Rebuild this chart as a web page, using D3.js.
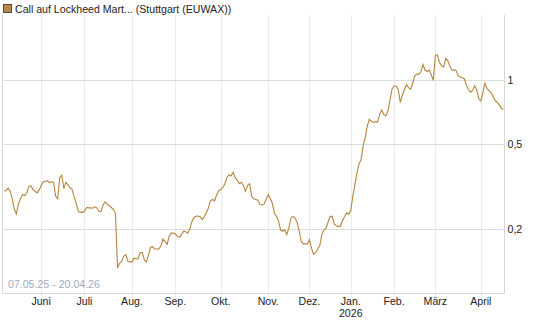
<!DOCTYPE html>
<html>
<head>
<meta charset="utf-8">
<script src="https://cdn.jsdelivr.net/npm/d3@7"></script>
<style>
  body { margin: 0; background: #fff; }
  text { font-family: Arial, "Liberation Sans", sans-serif; }
</style>
</head>
<body>
<div id="chart"></div>
<script>
// chart size
var w = 545;
var h = 327;
var margin = { top: 15, right: 41.5, bottom: 34, left: 4 };

var title = "Call auf Lockheed Mart... (Stuttgart (EUWAX))";
var rangeLabel = "07.05.25 - 20.04.26";

// daily closes, one per trading day, 07.05.25 .. 20.04.26
var prices = [
    0.302, 0.302, 0.311, 0.300, 0.276, 0.248, 0.235, 0.262, 0.278, 0.290,
    0.287, 0.294, 0.316, 0.319, 0.306, 0.301, 0.295, 0.304, 0.320, 0.333,
    0.335, 0.337, 0.330, 0.332, 0.332, 0.285, 0.277, 0.348, 0.358, 0.309,
    0.331, 0.322, 0.312, 0.307, 0.282, 0.263, 0.242, 0.239, 0.239, 0.242,
    0.252, 0.251, 0.251, 0.250, 0.254, 0.251, 0.242, 0.241, 0.259, 0.268,
    0.261, 0.257, 0.252, 0.247, 0.236, 0.131, 0.138, 0.141, 0.149, 0.151,
    0.141, 0.140, 0.140, 0.146, 0.144, 0.145, 0.155, 0.155, 0.143, 0.140,
    0.151, 0.164, 0.165, 0.161, 0.161, 0.161, 0.166, 0.179, 0.175, 0.169,
    0.184, 0.191, 0.191, 0.190, 0.184, 0.183, 0.188, 0.195, 0.194, 0.191,
    0.199, 0.216, 0.226, 0.229, 0.230, 0.228, 0.221, 0.228, 0.238, 0.250,
    0.271, 0.275, 0.271, 0.288, 0.302, 0.305, 0.313, 0.326, 0.348, 0.359,
    0.354, 0.369, 0.348, 0.339, 0.326, 0.331, 0.320, 0.300, 0.320, 0.326,
    0.284, 0.277, 0.275, 0.273, 0.260, 0.259, 0.262, 0.275, 0.290, 0.278,
    0.264, 0.237, 0.229, 0.218, 0.198, 0.195, 0.198, 0.188, 0.202, 0.224,
    0.229, 0.225, 0.215, 0.196, 0.175, 0.170, 0.170, 0.170, 0.178, 0.162,
    0.152, 0.155, 0.161, 0.167, 0.188, 0.198, 0.201, 0.215, 0.229, 0.229,
    0.211, 0.207, 0.205, 0.206, 0.219, 0.228, 0.238, 0.234, 0.244, 0.285,
    0.323, 0.365, 0.404, 0.422, 0.491, 0.538, 0.608, 0.654, 0.640, 0.632,
    0.638, 0.635, 0.690, 0.723, 0.690, 0.678, 0.715, 0.804, 0.905, 0.937,
    0.937, 0.904, 0.786, 0.848, 0.903, 0.951, 0.921, 0.907, 0.966, 1.046,
    1.067, 1.064, 1.096, 1.183, 1.114, 1.096, 1.114, 1.059, 0.996, 1.310,
    1.310, 1.210, 1.166, 1.151, 1.265, 1.235, 1.159, 1.112, 1.116, 1.110,
    1.046, 1.035, 1.024, 1.015, 0.945, 0.903, 0.877, 0.891, 0.940, 0.900,
    0.816, 0.798, 0.872, 0.967, 0.911, 0.891, 0.872, 0.837, 0.799, 0.785,
    0.764, 0.734, 0.729
];

// first trading day of each month (index from 07.05.25)
var monthDays = [18, 39, 62, 83, 105, 128, 148, 168, 189, 209, 231];
var monthNames = ["Juni", "Juli", "Aug.", "Sep.", "Okt.", "Nov.", "Dez.", "Jan.", "Feb.", "März", "April"];
var yearLabels = { "Jan.": "2026" };

var yTicks = [0.2, 0.5, 1];
var yDomain = [0.1, 2.02];

var lineColor = "#b5853f";
var fontSize = 10.6;

var svg = d3.select("#chart")
    .append("svg")
    .attr("width", w)
    .attr("height", h);

var xScale = d3.scaleLinear()
    .domain([0, prices.length - 1])
    .range([margin.left, w - margin.right]);

var yScale = d3.scaleLog()
    .domain(yDomain)
    .range([h - margin.bottom, margin.top]);

var x0 = xScale.range()[0], x1 = xScale.range()[1];
var yTop = margin.top, yBot = h - margin.bottom;

// vertical month grid
svg.append("g")
    .selectAll("line")
    .data(monthDays)
    .enter()
    .append("line")
    .attr("x1", function (d) { return Math.round(xScale(d)) + 0.5; })
    .attr("x2", function (d) { return Math.round(xScale(d)) + 0.5; })
    .attr("y1", yTop)
    .attr("y2", yBot + 4)
    .attr("stroke", "#ebebeb");

// horizontal grid
svg.append("g")
    .selectAll("line")
    .data(yTicks)
    .enter()
    .append("line")
    .attr("x1", x0)
    .attr("x2", x1)
    .attr("y1", function (d) { return Math.round(yScale(d)) + 0.5; })
    .attr("y2", function (d) { return Math.round(yScale(d)) + 0.5; })
    .attr("stroke", "#dcdcdc");

// frame: left, right, bottom
svg.append("path")
    .attr("d", "M" + (Math.round(x0) - 1.5) + "," + yTop +
        "V" + (yBot + 0.5) + "H" + (Math.round(x1) + 0.5) + "V" + yTop)
    .attr("fill", "none")
    .attr("stroke", "#d6d6d6");

// month labels
var xLabels = svg.append("g")
    .attr("font-size", fontSize)
    .attr("fill", "#222")
    .attr("text-anchor", "middle");

xLabels.selectAll("text.month")
    .data(monthDays)
    .enter()
    .append("text")
    .attr("class", "month")
    .attr("x", function (d) { return xScale(d); })
    .attr("y", yBot + 12)
    .text(function (d, i) { return monthNames[i]; });

xLabels.selectAll("text.year")
    .data(monthDays.filter(function (d, i) { return yearLabels[monthNames[i]]; }))
    .enter()
    .append("text")
    .attr("class", "year")
    .attr("x", function (d) { return xScale(d); })
    .attr("y", yBot + 24)
    .text(function (d) { return yearLabels[monthNames[monthDays.indexOf(d)]]; });

// y labels on the right
svg.append("g")
    .attr("font-size", fontSize)
    .attr("fill", "#222")
    .selectAll("text")
    .data(yTicks)
    .enter()
    .append("text")
    .attr("x", x1 + 4)
    .attr("y", function (d) { return yScale(d) + 4; })
    .text(function (d) { return String(d).replace(".", ","); });

// date range
svg.append("text")
    .attr("x", 8)
    .attr("y", yBot - 5)
    .attr("font-size", fontSize)
    .attr("fill", "#a3abbb")
    .text(rangeLabel);

// price line
var line = d3.line()
    .x(function (d, i) { return xScale(i); })
    .y(function (d) { return yScale(d); });

svg.append("path")
    .datum(prices)
    .attr("d", line)
    .attr("fill", "none")
    .attr("stroke", lineColor)
    .attr("stroke-width", 1.1);

// legend
svg.append("rect")
    .attr("x", 3.5)
    .attr("y", 4.5)
    .attr("width", 8)
    .attr("height", 8)
    .attr("fill", "#b8894e")
    .attr("stroke", "#5a4a30");

svg.append("text")
    .attr("x", 15)
    .attr("y", 12.5)
    .attr("font-size", fontSize)
    .attr("fill", "#222")
    .text(title);
</script>
</body>
</html>
